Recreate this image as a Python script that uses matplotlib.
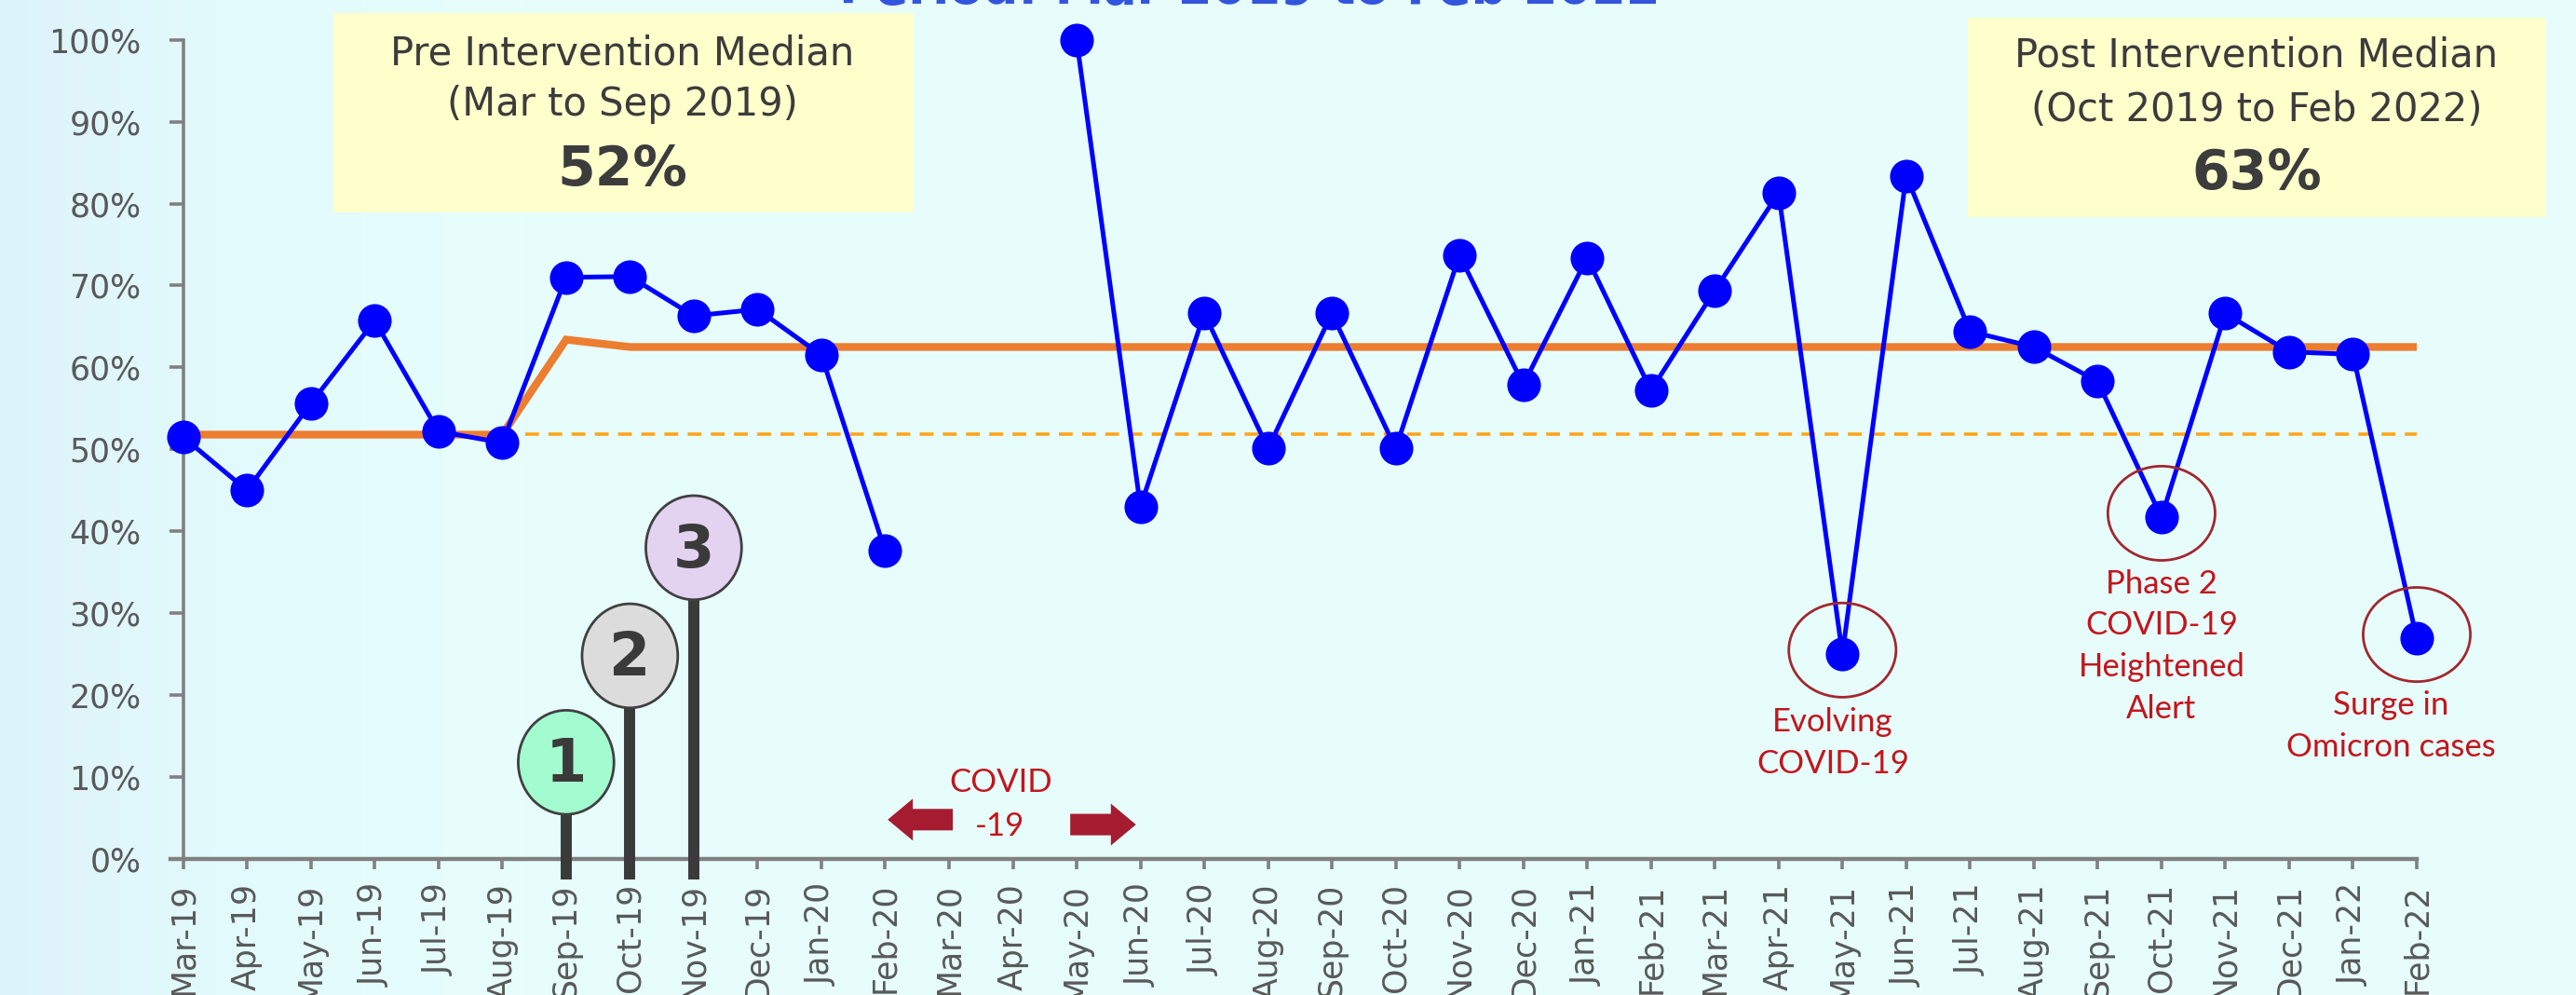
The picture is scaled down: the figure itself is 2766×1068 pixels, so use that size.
import numpy as np
import matplotlib.pyplot as plt
from matplotlib.patches import Ellipse, Rectangle
from matplotlib.colors import LinearSegmentedColormap

# ----------------------------------------------------------------------
# Data
# ----------------------------------------------------------------------
months = ["Mar-19", "Apr-19", "May-19", "Jun-19", "Jul-19", "Aug-19",
          "Sep-19", "Oct-19", "Nov-19", "Dec-19", "Jan-20", "Feb-20",
          "Mar-20", "Apr-20", "May-20", "Jun-20", "Jul-20", "Aug-20",
          "Sep-20", "Oct-20", "Nov-20", "Dec-20", "Jan-21", "Feb-21",
          "Mar-21", "Apr-21", "May-21", "Jun-21", "Jul-21", "Aug-21",
          "Sep-21", "Oct-21", "Nov-21", "Dec-21", "Jan-22", "Feb-22"]

# monthly percentage (no data for Mar-20 / Apr-20)
pct = [51.5, 45.0, 55.6, 65.7, 52.2, 50.8, 71.0, 71.1, 66.3, 67.1, 61.5, 37.6,
       np.nan, np.nan, 100.0, 43.0, 66.6, 50.1, 66.6, 50.1, 73.7, 57.9, 73.4, 57.2,
       69.4, 81.3, 25.0, 83.4, 64.4, 62.5, 58.3, 41.7, 66.6, 61.9, 61.6, 26.9]

# centre line (running median)
centre = [51.8, 51.8, 51.8, 51.8, 51.8, 51.8, 63.4, 62.5, 62.5, 62.5, 62.5, 62.5,
          62.5, 62.5, 62.5, 62.5, 62.5, 62.5, 62.5, 62.5, 62.5, 62.5, 62.5, 62.5,
          62.5, 62.5, 62.5, 62.5, 62.5, 62.5, 62.5, 62.5, 62.5, 62.5, 62.5, 62.5]

pre_median = 51.9            # extended pre-intervention median (dashed)
pre_ext_from = "Aug-19"

# intervention bubbles
interv_months = ["Sep-19", "Oct-19", "Nov-19"]
interv_labels = ["1", "2", "3"]
interv_y = [11.8, 24.8, 38.0]
interv_colors = ["#A3FCCF", "#DCDCDC", "#E4D2F1"]

# circled special-cause points and their notes
note_months = ["May-21", "Oct-21", "Feb-22"]
note_lines = [["Evolving", "COVID-19"],
              ["Phase 2", "COVID-19", "Heightened", "Alert"],
              ["Surge in", "Omicron cases"]]
note_top = [16.7, 33.6, 18.8]
note_dx = [-0.15, 0.0, -0.4]

# ----------------------------------------------------------------------
W, H, DPI = 2766, 1068, 200
fig = plt.figure(figsize=(W / DPI, H / DPI), dpi=DPI)
fig.patch.set_facecolor("#E6FDFC")

# soft background gradient (a bit bluer at the left edge)
bg = fig.add_axes([0, 0, 1, 1], zorder=-5)
cmap = LinearSegmentedColormap.from_list(
    "bg", [(0, "#DDF3FA"), (0.08, "#E3FAFC"), (0.2, "#E7FEFC"), (1, "#E6FDFC")])
bg.imshow(np.linspace(0, 1, 256)[None, :], aspect="auto", cmap=cmap,
          extent=[0, 1, 0, 1])
bg.axis("off")

ax = fig.add_axes([183 / W, 1 - 922 / H, (2595 - 183) / W, (922 - 42.7) / H])
ax.set_facecolor("none")

x = np.arange(len(months))
grey = "#808080"
txt_grey = "#595959"

# pre-intervention median extended (dashed)
i0 = months.index(pre_ext_from)
ax.plot([x[i0], x[-1]], [pre_median, pre_median], color="#FFA41B", lw=1.3,
        dashes=(4.1, 2.8), zorder=2)
# centre line
ax.plot(x, centre, color="#ED7D31", lw=3.0, zorder=3, solid_joinstyle="miter")
# data
ax.plot(x, pct, color="#0000FF", lw=1.8, marker="o", ms=12, zorder=4,
        clip_on=False)

# intervention bubbles on stems
for m, lab, yc, fc in zip(interv_months, interv_labels, interv_y, interv_colors):
    xi = months.index(m)
    h = 12.7
    ax.plot([xi, xi], [-2.5, yc - h / 2], color="#3A3A3A", lw=4.3,
            solid_capstyle="butt", clip_on=False, zorder=5)
    ax.add_patch(Ellipse((xi, yc), 1.5, h, facecolor=fc, edgecolor="#404040",
                         lw=1.0, zorder=6))
    ax.text(xi, yc - 0.3, lab, ha="center", va="center", fontsize=23,
            fontweight="bold", color="#3A3A3A", zorder=7)

# circled points + notes
red = "#C3151C"
for m, lines, top, dx in zip(note_months, note_lines, note_top, note_dx):
    xi = months.index(m)
    ax.add_patch(Ellipse((xi, pct[xi] + 0.5), 1.68, 11.5, facecolor="none",
                         edgecolor="#A2272E", lw=1.0, zorder=5, clip_on=False))
    for k, line in enumerate(lines):
        ax.text(xi + dx, top - 5.1 * k, line, ha="center", va="center",
                fontsize=12.5, color=red, family="Lato", zorder=7,
                clip_on=False)

# COVID-19 gap marker
arrow_style = "simple,head_length=9.7,head_width=16.2,tail_width=8.3"
ax.annotate("", xy=(11.04, 4.8), xytext=(12.06, 4.8),
            arrowprops=dict(arrowstyle=arrow_style, mutation_scale=1,
                            color="#A51C30", shrinkA=0, shrinkB=0, lw=0))
ax.annotate("", xy=(14.93, 4.2), xytext=(13.9, 4.2),
            arrowprops=dict(arrowstyle=arrow_style, mutation_scale=1,
                            color="#A51C30", shrinkA=0, shrinkB=0, lw=0))
ax.text(12.82, 9.3, "COVID", ha="center", va="center", fontsize=12.5,
        color=red, family="Lato")
ax.text(12.8, 4.0, "-19", ha="center", va="center", fontsize=12.5,
        color=red, family="Lato")

# axes styling
ax.set_xlim(-0.2, 35)
ax.set_ylim(0, 100)
ax.spines["left"].set_position(("data", 0))
ax.spines["right"].set_visible(False)
ax.spines["top"].set_visible(False)
ax.spines["left"].set_color(grey)
ax.spines["left"].set_linewidth(1.3)
ax.spines["bottom"].set_color(grey)
ax.spines["bottom"].set_linewidth(1.6)

ax.set_yticks(np.arange(0, 101, 10))
ax.set_yticklabels([f"{v}%" for v in range(0, 101, 10)])
ax.set_xticks(x)
ax.set_xticklabels(months, rotation=90)
ax.tick_params(axis="y", length=5.4, width=1.3, color=grey, pad=10.8,
               labelsize=12.5, labelcolor=txt_grey)
ax.tick_params(axis="x", length=4, width=1.3, color=grey, pad=5.4,
               labelsize=12.5, labelcolor=txt_grey)

# median boxes
box_fc = "#FFFFCC"
dark = "#3C3C3C"
fig.add_artist(Rectangle((358 / W, 1 - 228 / H), 623 / W, 214 / H,
                         transform=fig.transFigure, facecolor=box_fc,
                         edgecolor="none", zorder=1))
fig.add_artist(Rectangle((2113 / W, 1 - 233 / H), 621 / W, 214 / H,
                         transform=fig.transFigure, facecolor=box_fc,
                         edgecolor="none", zorder=1))

pre_x, post_x = 668 / W, 2423 / W
fig.text(pre_x, 1 - 58 / H, "Pre Intervention Median", ha="center",
         va="center", fontsize=15, color=dark, zorder=2)
fig.text(pre_x, 1 - 112 / H, "(Mar to Sep 2019)", ha="center", va="center",
         fontsize=15, color=dark, zorder=2)
fig.text(pre_x, 1 - 183 / H, "52%", ha="center", va="center", fontsize=21,
         fontweight="bold", color=dark, zorder=2)
fig.text(post_x, 1 - 60 / H, "Post Intervention Median", ha="center",
         va="center", fontsize=15, color=dark, zorder=2)
fig.text(post_x, 1 - 118 / H, "(Oct 2019 to Feb 2022)", ha="center",
         va="center", fontsize=15, color=dark, zorder=2)
fig.text(post_x, 1 - 187 / H, "63%", ha="center", va="center", fontsize=21,
         fontweight="bold", color=dark, zorder=2)

# title, cropped off at the top edge in the source
fig.text(0.485, 1 - 4 / H, "Period: Mar 2019 to Feb 2022", ha="center",
         va="baseline", fontsize=19, fontweight="bold", color="#3355DD")

fig.savefig("out.png", dpi=DPI, facecolor=fig.get_facecolor())
